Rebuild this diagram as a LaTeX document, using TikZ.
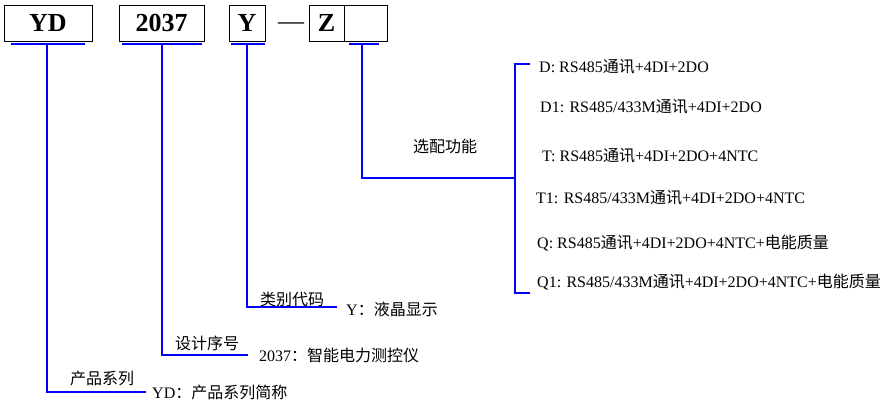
\documentclass[tikz,border=0pt]{standalone}
\usepackage{fontspec}
\setmainfont{Liberation Serif}
\newfontfamily\cjk{Noto Sans CJK SC}
\begin{document}
\begin{tikzpicture}[x=1pt,y=-1pt,
  codebox/.style={draw=black,line width=0.8pt,minimum height=36pt,inner sep=0pt,
    font=\fontsize{26}{30}\selectfont\bfseries},
  blueline/.style={draw=blue,line width=1.1pt},
  lbl/.style={inner sep=0pt,font=\fontsize{16}{19}\selectfont},
  opt/.style={lbl,anchor=west}]
\useasboundingbox (0,0) rectangle (889,402);
% code boxes
\node[codebox,minimum width=88pt] (yd) at (48,23) {YD};
\node[codebox,minimum width=85pt] (num) at (161.5,23) {2037};
\node[codebox,minimum width=36pt] (ybox) at (247,23) {Y};
\node[inner sep=0pt,font=\fontsize{26}{30}\selectfont] (dash) at (291,26) {—};
\node[codebox,minimum width=35pt] (zbox) at (326.5,23) {Z};
\node[codebox,minimum width=43pt] (emp) at (365.5,23) {};
% underline coordinates
\coordinate (ydA) at (11,44); \coordinate (ydB) at (85,44); \coordinate (ydM) at (47,44);
\coordinate (numA) at (122,44); \coordinate (numB) at (202,44); \coordinate (numM) at (162,44);
\coordinate (yA) at (231,44); \coordinate (yB) at (265,44); \coordinate (yM) at (247,44);
\coordinate (eA) at (349,44); \coordinate (eB) at (379,44); \coordinate (eM) at (362,44);
% labels
\node[lbl] (catl) at (292,299) {\cjk 类别代码};
\node[opt] (cattext) at (346,309) {Y{\cjk ：液晶显示}};
\node[lbl] (numl) at (207,343) {\cjk 设计序号};
\node[opt] (numtext) at (259,355) {2037{\cjk ：智能电力测控仪}};
\node[lbl] (ydl) at (102,378) {\cjk 产品系列};
\node[opt] (ydtext) at (152,392) {YD{\cjk ：产品系列简称}};
\node[lbl] (optl) at (445,146) {\cjk 选配功能};
% options
\node[opt] (oD) at (539,67) {D: RS485{\cjk 通讯}+4DI+2DO};
\node[opt] (oD1) at (540,107) {D1: RS485/433M{\cjk 通讯}+4DI+2DO};
\node[opt] (oT) at (542,156) {T: RS485{\cjk 通讯}+4DI+2DO+4NTC};
\node[opt] (oT1) at (536,198) {T1: RS485/433M{\cjk 通讯}+4DI+2DO+4NTC};
\node[opt] (oQ) at (537,243) {Q: RS485{\cjk 通讯}+4DI+2DO+4NTC+{\cjk 电能质量}};
\node[opt] (oQ1) at (537,282) {Q1: RS485/433M{\cjk 通讯}+4DI+2DO+4NTC+{\cjk 电能质量}};
% bracket
\coordinate (brT) at (515,64);
\coordinate (brB) at (515,293);
\coordinate (brM) at (515,178);
\coordinate (brTe) at (530,64);
\coordinate (brBe) at (530,293);
% connectors
\draw[blueline] (ydA) -- (ydB);
\draw[blueline] (ydM) |- ([xshift=-6pt]ydtext.west);
\draw[blueline] (numA) -- (numB);
\draw[blueline] (numM) |- ([xshift=-11pt]numtext.west);
\draw[blueline] (yA) -- (yB);
\draw[blueline] (yM) |- ([xshift=-9pt,yshift=2pt]cattext.west);
\draw[blueline] (eA) -- (eB);
\draw[blueline] (eM) |- (brM);
\draw[blueline] (brTe) -- (brT) -- (brB) -- (brBe);
\end{tikzpicture}
\end{document}
